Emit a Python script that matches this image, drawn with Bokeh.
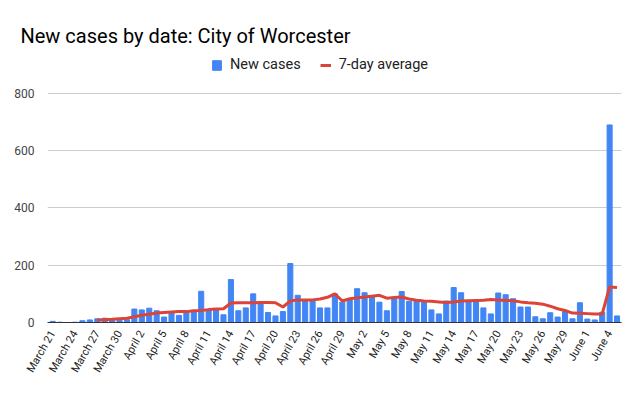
import math
from bokeh.plotting import figure
from bokeh.models import FixedTicker, Legend, LegendItem, Range1d
from bokeh.embed import file_html
from bokeh.resources import INLINE

# Days since March 21 (index 0 = March 21, index 76 = June 5)
new_cases = [4, 1, 0, 1, 6, 9, 13, 15, 8, 8, 10, 47, 44, 50, 41, 19, 36, 25, 38,
             38, 109, 44, 47, 27, 150, 41, 51, 100, 65, 35, 23, 38, 206, 95, 75, 77,
             51, 51, 100, 71, 83, 118, 104, 89, 71, 41, 83, 108, 74, 80, 70, 44, 30,
             75, 122, 104, 77, 75, 51, 30, 103, 97, 83, 54, 54, 20, 13, 34, 19, 38,
             13, 69, 12, 9, 36, 690, 23]
avg_start = 6
seven_day_avg = [9, 10, 11, 13, 15, 20, 25, 29, 33, 35, 37, 38, 38, 41, 42, 45, 47,
                 48, 68, 69, 69, 69, 70, 70, 69, 54, 75, 79, 79, 79, 82, 88, 100, 75,
                 83, 86, 89, 92, 95, 85, 87, 89, 82, 78, 75, 74, 72, 70, 72, 75, 76,
                 77, 78, 80, 79, 77, 76, 72, 69, 67, 64, 57, 48, 42, 33, 32, 31, 30,
                 30, 124, 122]
tick_labels = ["March 21", "March 24", "March 27", "March 30", "April 2", "April 5",
               "April 8", "April 11", "April 14", "April 17", "April 20", "April 23",
               "April 26", "April 29", "May 2", "May 5", "May 8", "May 11", "May 14",
               "May 17", "May 20", "May 23", "May 26", "May 29", "June 1", "June 4"]
y_ticks = [0, 200, 400, 600, 800]

days = list(range(len(new_cases)))
avg_days = list(range(avg_start, avg_start + len(seven_day_avg)))
tick_pos = [i * 3 for i in range(len(tick_labels))]

FONT = "Roboto"

p = figure(width=625, height=380, output_backend="svg", toolbar_location=None,
           x_range=Range1d(-0.7, 76.6), y_range=Range1d(0, 950),
           min_border_left=47, min_border_right=4, min_border_top=50,
           min_border_bottom=58)
p.outline_line_color = None

bars = p.vbar(x=days, top=new_cases, width=0.68, color="#4285F4")
line = p.line(x=avg_days, y=seven_day_avg, line_color="#DB4437", line_width=3)

p.title.text = "New cases by date: City of Worcester"
p.title.text_font = FONT
p.title.text_font_size = "20px"
p.title.text_font_style = "normal"
p.title.text_color = "#000000"
p.title.offset = -27
p.title.standoff = 6

legend = Legend(items=[LegendItem(label="New cases", renderers=[bars]),
                       LegendItem(label="7-day average", renderers=[line])],
                orientation="horizontal", location=(164, 249),
                label_text_font=FONT, label_text_font_size="14.5px",
                label_text_color="#222222", border_line_color=None,
                background_fill_alpha=0, spacing=19, glyph_width=11,
                glyph_height=12, label_standoff=8, padding=2, margin=0)
p.add_layout(legend)

p.xgrid.visible = False
p.ygrid.grid_line_color = "#CCCCCC"
p.ygrid.ticker = FixedTicker(ticks=y_ticks)

p.yaxis.ticker = FixedTicker(ticks=y_ticks)
p.yaxis.axis_line_color = None
p.yaxis.major_tick_line_color = None
p.yaxis.minor_tick_line_color = None
p.yaxis.major_label_text_font = FONT
p.yaxis.major_label_text_font_size = "12px"
p.yaxis.major_label_text_color = "#444444"
p.yaxis.major_label_standoff = 7

p.xaxis.ticker = FixedTicker(ticks=tick_pos)
p.xaxis.major_label_overrides = {t: l for t, l in zip(tick_pos, tick_labels)}
p.xaxis.major_label_orientation = math.pi / 3
p.xaxis.axis_line_color = "#333333"
p.xaxis.major_tick_line_color = None
p.xaxis.minor_tick_line_color = None
p.xaxis.major_label_text_font = FONT
p.xaxis.major_label_text_font_size = "11px"
p.xaxis.major_label_text_color = "#222222"
p.xaxis.major_label_standoff = 3

open("out.html", "w").write(file_html(p, INLINE))
